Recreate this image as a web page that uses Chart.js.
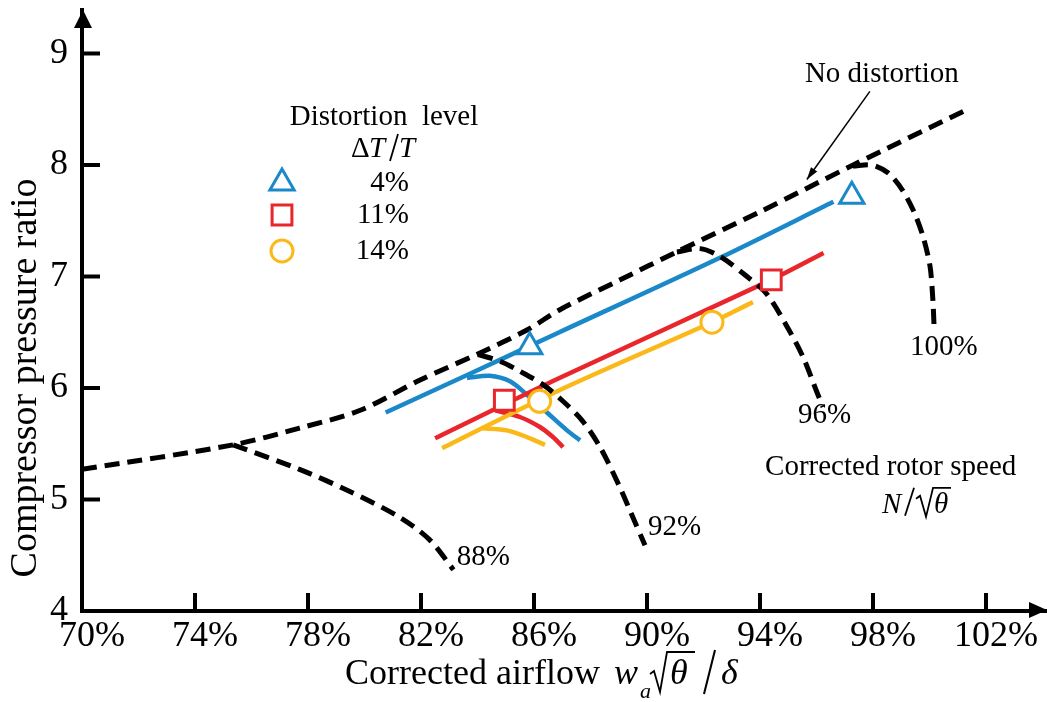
<!DOCTYPE html>
<html>
<head>
<meta charset="utf-8">
<script src="https://cdn.jsdelivr.net/npm/chart.js@4.4.1/dist/chart.umd.min.js"></script>
<style>
html, body { margin: 0; padding: 0; background: #fff; overflow: hidden; }
canvas { display: block; }
</style>
</head>
<body>
<canvas id="mapChart" width="1047" height="702"></canvas>
<script>
// corrected airflow (%) and pressure ratio
const surgeX = [70.0, 75.35, 77.7, 79.85, 81.95, 84.05, 85.75, 86.9, 89.05, 91.05, 94.0, 97.3, 101.35];
const surgeY = [5.27, 5.49, 5.64, 5.80, 6.07, 6.31, 6.52, 6.70, 6.97, 7.22, 7.58, 8.00, 8.50];

const speed88X = [75.35, 77.7, 79.5, 81.25, 82.3, 83.15];
const speed88Y = [5.49, 5.27, 5.07, 4.84, 4.64, 4.37];
const speed92X = [84.02, 84.8, 85.5, 86.32, 86.99, 87.7, 88.34, 89.04, 89.5, 89.93];
const speed92Y = [6.30, 6.24, 6.15, 6.03, 5.89, 5.71, 5.47, 5.11, 4.84, 4.59];
const speed96X = [91.06, 91.88, 92.58, 93.54, 94.25, 94.96, 95.52, 96.02, 96.23];
const speed96Y = [7.22, 7.25, 7.18, 7.00, 6.84, 6.55, 6.28, 5.96, 5.83];
const speed100X = [97.29, 97.96, 98.53, 99.03, 99.45, 99.77, 100.02, 100.12, 100.16];
const speed100Y = [7.99, 8.00, 7.93, 7.78, 7.58, 7.36, 7.09, 6.79, 6.57];

// distorted inlet: 4 %, 11 %, 14 %
const blueX = [80.75, 83.75, 86.9, 92.6, 96.6];
const blueY = [5.78, 6.13, 6.50, 7.17, 7.67];
const blueArcX = [83.63, 84.44, 85.15, 85.75, 86.46, 87.17, 87.63];
const blueArcY = [6.09, 6.11, 6.06, 5.94, 5.78, 5.62, 5.53];
const blueMarkX = [85.85, 97.25];
const blueMarkY = [6.37, 7.72];

const redX = [82.5, 86.9, 94.4, 96.25];
const redY = [5.55, 6.09, 6.97, 7.21];
const redArcX = [84.62, 85.5, 86.21, 86.67, 87.03];
const redArcY = [5.80, 5.74, 5.65, 5.56, 5.47];
const redMarkX = [84.95, 94.4];
const redMarkY = [5.89, 6.97];

const yellowX = [82.75, 86.9, 92.3, 93.75];
const yellowY = [5.46, 5.98, 6.59, 6.77];
const yellowArcX = [84.19, 85.04, 85.75, 86.39];
const yellowArcY = [5.64, 5.62, 5.56, 5.49];
const yellowMarkX = [86.2, 92.3];
const yellowMarkY = [5.88, 6.59];

const xTicks = [70, 74, 78, 82, 86, 90, 94, 98, 102];
const yTicks = [4, 5, 6, 7, 8, 9];
const levelLabels = ['4%', '11%', '14%'];

const BLUE = '#1a88c9';
const RED = '#e8262b';
const YELLOW = '#fbb919';
const SERIF = '"Liberation Serif", "Times New Roman", serif';

function pts(xs, ys) {
	return xs.map((x, i) => ({ x: x, y: ys[i] }));
}

function dashed(xs, ys) {
	return { data: pts(xs, ys), showLine: true, borderColor: '#000', borderWidth: 5, borderDash: [15, 8], pointRadius: 0, tension: 0.3, order: 2 };
}
function solid(xs, ys, color) {
	return { data: pts(xs, ys), showLine: true, borderColor: color, borderWidth: 4.5, pointRadius: 0, tension: 0.3, order: 3 };
}
function marks(xs, ys, color, style, r) {
	return { data: pts(xs, ys), showLine: false, pointStyle: style, pointRadius: r, pointBorderWidth: 3, borderColor: color, backgroundColor: '#fff', order: 1 };
}

function txt(ctx, s, x, y, font, align, base) {
	ctx.font = font;
	ctx.textAlign = align || 'left';
	ctx.textBaseline = base || 'middle';
	ctx.fillText(s, x, y);
}
function seg(ctx, x1, y1, x2, y2, w) {
	ctx.lineWidth = w;
	ctx.beginPath();
	ctx.moveTo(x1, y1);
	ctx.lineTo(x2, y2);
	ctx.stroke();
}
function radical(ctx, x, yb, top, len) {
	ctx.lineWidth = 1.8;
	ctx.beginPath();
	ctx.moveTo(x, yb - 18);
	ctx.lineTo(x + 4, yb - 21);
	ctx.lineTo(x + 10, yb);
	ctx.lineTo(x + 17, top);
	ctx.lineTo(x + 17 + len, top);
	ctx.stroke();
}
function noPad(s) {
	s.paddingLeft = 0;
	s.paddingRight = 0;
	s.paddingTop = 0;
	s.paddingBottom = 0;
}

const decor = {
	id: 'decor',
	afterDatasetsDraw(chart) {
		const ctx = chart.ctx;
		const xs = chart.scales.x, ys = chart.scales.y;
		const a = chart.chartArea;
		const px = v => xs.getPixelForValue(v);
		const py = v => ys.getPixelForValue(v);
		ctx.save();
		ctx.fillStyle = '#000';
		ctx.strokeStyle = '#000';
		ctx.lineCap = 'butt';

		// inward ticks
		xTicks.slice(1).forEach(v => seg(ctx, px(v), a.bottom, px(v), a.bottom - 18, 4));
		yTicks.slice(1).forEach(v => seg(ctx, a.left, py(v), a.left + 18, py(v), 4));

		// axis arrows
		ctx.beginPath();
		ctx.moveTo(a.left + 1, a.top);
		ctx.lineTo(a.left - 8, a.top + 18);
		ctx.lineTo(a.left + 10, a.top + 18);
		ctx.closePath();
		ctx.fill();
		ctx.beginPath();
		ctx.moveTo(a.right, a.bottom - 1);
		ctx.lineTo(a.right - 18, a.bottom - 9);
		ctx.lineTo(a.right - 18, a.bottom + 7);
		ctx.closePath();
		ctx.fill();

		// axis titles
		ctx.save();
		ctx.translate(26, 378);
		ctx.rotate(-Math.PI / 2);
		txt(ctx, 'Compressor pressure ratio', 0, 0, '38px ' + SERIF, 'center', 'middle');
		ctx.restore();
		txt(ctx, 'Corrected airflow', 345, 684, '36px ' + SERIF, 'left', 'alphabetic');
		txt(ctx, 'w', 614, 684, 'italic 36px ' + SERIF, 'left', 'alphabetic');
		txt(ctx, 'a', 640, 698, 'italic 22px ' + SERIF, 'left', 'alphabetic');
		radical(ctx, 650, 692, 652, 28);
		txt(ctx, 'θ', 670, 684, 'italic 36px ' + SERIF, 'left', 'alphabetic');
		seg(ctx, 715, 650, 704, 694, 2);
		txt(ctx, 'δ', 721, 684, 'italic 36px ' + SERIF, 'left', 'alphabetic');

		// speed-line labels
		const lab = '29px ' + SERIF;
		txt(ctx, '88%', px(83.27), py(4.48), lab);
		txt(ctx, '92%', px(90.04), py(4.75), lab);
		txt(ctx, '96%', px(95.35), py(5.75), lab);
		txt(ctx, '100%', px(99.31), py(6.36), lab);
		txt(ctx, 'No distortion', px(95.59), py(8.81), lab);
		txt(ctx, 'Corrected rotor speed', px(94.18), py(5.29), lab);

		// N / sqrt(theta)
		const nx = px(98.32), nb = py(4.97) + 10;
		txt(ctx, 'N', nx, nb, 'italic 29px ' + SERIF, 'left', 'alphabetic');
		seg(ctx, nx + 32, nb - 25, nx + 23, nb + 3, 1.8);
		radical(ctx, nx + 34, nb + 4, nb - 25, 18);
		txt(ctx, 'θ', nx + 52, nb, 'italic 29px ' + SERIF, 'left', 'alphabetic');

		// arrow to surge line
		const ax1 = px(97.89), ay1 = py(8.66), ax2 = px(95.66), ay2 = py(7.87);
		seg(ctx, ax1, ay1, ax2, ay2, 1.5);
		const ang = Math.atan2(ay2 - ay1, ax2 - ax1);
		ctx.beginPath();
		ctx.moveTo(ax2, ay2);
		ctx.lineTo(ax2 - 13 * Math.cos(ang - 0.3), ay2 - 13 * Math.sin(ang - 0.3));
		ctx.lineTo(ax2 - 13 * Math.cos(ang + 0.3), ay2 - 13 * Math.sin(ang + 0.3));
		ctx.closePath();
		ctx.fill();

		// legend
		txt(ctx, 'Distortion  level', 384, 117, lab, 'center');
		txt(ctx, 'Δ', 351, 157, '29px ' + SERIF, 'left', 'alphabetic');
		txt(ctx, 'T', 369, 157, 'italic 29px ' + SERIF, 'left', 'alphabetic');
		seg(ctx, 398, 134, 390, 161, 1.8);
		txt(ctx, 'T', 399, 157, 'italic 29px ' + SERIF, 'left', 'alphabetic');
		const keys = [[BLUE, 'triangle', 14, 183], [RED, 'rect', 14, 215], [YELLOW, 'circle', 11, 251]];
		keys.forEach((k, i) => {
			ctx.strokeStyle = k[0];
			ctx.fillStyle = '#fff';
			ctx.lineWidth = 3;
			Chart.helpers.drawPoint(ctx, { pointStyle: k[1], radius: k[2], borderWidth: 3 }, 282, k[3]);
			ctx.fillStyle = '#000';
			txt(ctx, levelLabels[i], 409, k[3], lab, 'right');
		});
		ctx.restore();
	}
};

const ctx1 = document.getElementById('mapChart');

new Chart(ctx1, {
	type: 'scatter',
	data: {
		datasets: [
			marks(blueMarkX, blueMarkY, BLUE, 'triangle', 14),
			marks(redMarkX, redMarkY, RED, 'rect', 14),
			marks(yellowMarkX, yellowMarkY, YELLOW, 'circle', 11),
			dashed(surgeX, surgeY),
			dashed(speed88X, speed88Y),
			dashed(speed92X, speed92Y),
			dashed(speed96X, speed96Y),
			dashed(speed100X, speed100Y),
			solid(yellowX, yellowY, YELLOW),
			solid(yellowArcX, yellowArcY, YELLOW),
			solid(redX, redY, RED),
			solid(redArcX, redArcY, RED),
			solid(blueX, blueY, BLUE),
			solid(blueArcX, blueArcY, BLUE)
		]
	},
	options: {
		responsive: false,
		animation: false,
		layout: { autoPadding: false, padding: { top: 10, right: 0, left: 0, bottom: 0 } },
		plugins: {
			legend: { display: false },
			tooltip: { enabled: false }
		},
		scales: {
			x: {
				type: 'linear',
				min: 70,
				max: 104.16,
				afterFit: s => { s.height = 91; noPad(s); },
				grid: { display: false, drawTicks: false },
				border: { display: true, color: '#000', width: 4 },
				afterBuildTicks: s => { s.ticks = xTicks.map(v => ({ value: v })); },
				ticks: {
					color: '#000',
					padding: 4,
					labelOffset: 10,
					maxRotation: 0,
					autoSkip: false,
					font: { family: SERIF, size: 36 },
					callback: v => v + '%'
				}
			},
			y: {
				type: 'linear',
				min: 4,
				max: 9.39,
				afterFit: s => { s.width = 82; noPad(s); },
				grid: { display: false, drawTicks: false },
				border: { display: true, color: '#000', width: 4 },
				afterBuildTicks: s => { s.ticks = yTicks.map(v => ({ value: v })); },
				ticks: {
					color: '#000',
					padding: 14,
					font: { family: SERIF, size: 36 }
				}
			}
		}
	},
	plugins: [decor]
});
</script>
</body>
</html>
